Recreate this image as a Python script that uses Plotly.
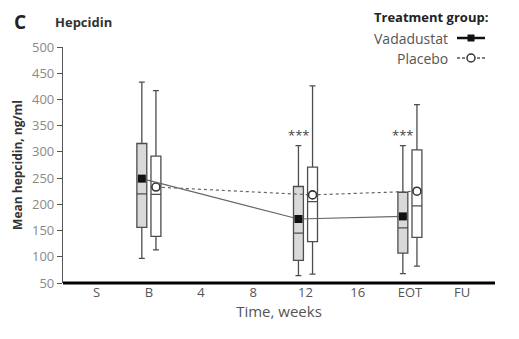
import plotly.graph_objects as go

# Categories (x-axis)
categories = ["S", "B", "4", "8", "12", "16", "EOT", "FU"]
box_cats = ["B", "12", "EOT"]

# Vadadustat box stats (ng/ml)
vad_lower = [97, 64, 68]
vad_q1 = [156, 93, 107]
vad_median = [220, 145, 155]
vad_q3 = [316, 234, 223]
vad_upper = [433, 312, 312]
vad_mean = [249, 172, 177]

# Placebo box stats (ng/ml)
pla_lower = [113, 67, 82]
pla_q1 = [139, 129, 137]
pla_median = [219, 205, 197]
pla_q3 = [292, 271, 304]
pla_upper = [417, 426, 390]
pla_mean = [233, 218, 225]

# significance marks
sig_cats = ["12", "EOT"]
sig_labels = ["***", "***"]
sig_y = [333, 333]

yticks = [50, 100, 150, 200, 250, 300, 350, 400, 450, 500]

pos = {c: i for i, c in enumerate(categories)}
off = 0.135
bw = 0.19
xv = [pos[c] - off for c in box_cats]
xp = [pos[c] + off for c in box_cats]

edge = "#4d4d4d"
fig = go.Figure()
fig.add_trace(go.Box(x=xv, q1=vad_q1, median=vad_median, q3=vad_q3,
                     lowerfence=vad_lower, upperfence=vad_upper,
                     fillcolor="#d9d9d9", line=dict(color=edge, width=1.3),
                     width=bw, whiskerwidth=0.6, showlegend=False, hoverinfo="skip"))
fig.add_trace(go.Box(x=xp, q1=pla_q1, median=pla_median, q3=pla_q3,
                     lowerfence=pla_lower, upperfence=pla_upper,
                     fillcolor="white", line=dict(color=edge, width=1.3),
                     width=bw, whiskerwidth=0.6, showlegend=False, hoverinfo="skip"))
fig.add_trace(go.Scatter(x=xp, y=pla_mean, mode="lines+markers",
                         line=dict(color="#666666", width=1.2, dash="3px,3px"),
                         marker=dict(symbol="circle", size=8, color="white",
                                     line=dict(color="#333333", width=1.6)),
                         showlegend=False))
fig.add_trace(go.Scatter(x=xv, y=vad_mean, mode="lines+markers",
                         line=dict(color="#666666", width=1.2),
                         marker=dict(symbol="square", size=8, color="#111111"),
                         showlegend=False))

for c, lab, yy in zip(sig_cats, sig_labels, sig_y):
    fig.add_annotation(x=pos[c] - off, y=yy, text=lab, showarrow=False,
                       font=dict(size=13, color="#444444", family="Open Sans"))

font = "Open Sans"
fig.update_layout(
    width=519, height=339,
    margin=dict(l=63, r=24, t=47, b=56),
    paper_bgcolor="white", plot_bgcolor="white",
    xaxis=dict(range=[-0.645, 7.63], tickmode="array",
               tickvals=list(range(len(categories))), ticktext=categories,
               showgrid=False, zeroline=False, showline=False, ticks="",
               tickfont=dict(size=13, color="#555555", family=font),
               title=dict(text="Time, weeks", font=dict(size=15, color="#555555", family=font),
                          standoff=4)),
    yaxis=dict(range=[50, 500], tickvals=yticks, showgrid=False, zeroline=False,
               showline=True, linecolor="#555555", linewidth=1.2,
               ticks="outside", ticklen=5, tickcolor="#555555",
               tickfont=dict(size=13, color="#8a8a8a", family=font),
               title=dict(text="<b>Mean hepcidin, ng/ml</b>",
                          font=dict(size=12, color="#333333", family=font), standoff=6)),
)

# thick x-axis baseline
fig.add_shape(type="line", xref="paper", yref="paper", x0=0, x1=1, y0=0, y1=0,
              line=dict(color="black", width=3))


def px2x(p):
    return (p - 63) / 432


def py2y(p):
    return (283 - p) / 236


def text_at(px, py, text, size, color, anchor="left"):
    fig.add_annotation(xref="paper", yref="paper", x=px2x(px), y=py2y(py),
                       text=text, showarrow=False, xanchor=anchor, yanchor="middle",
                       font=dict(size=size, color=color, family=font))


# panel label and title
text_at(12, 22, "<b>C</b>", 19, "#222222")
text_at(53, 22, "<b>Hepcidin</b>", 13, "#333333")

# legend (text left of key)
text_at(490, 17, "<b>Treatment group:</b>", 13, "#222222", "right")
text_at(450, 38, "Vadadustat", 14, "#555555", "right")
text_at(450, 58, "Placebo", 14, "#555555", "right")
fig.add_shape(type="line", xref="paper", yref="paper", x0=px2x(457), x1=px2x(485),
              y0=py2y(38), y1=py2y(38), line=dict(color="#111111", width=2.5))
fig.add_shape(type="rect", xref="paper", yref="paper", x0=px2x(467.5), x1=px2x(474.5),
              y0=py2y(34.5), y1=py2y(41.5), line=dict(width=0), fillcolor="#111111")
fig.add_shape(type="line", xref="paper", yref="paper", x0=px2x(457), x1=px2x(485),
              y0=py2y(58), y1=py2y(58), line=dict(color="#555555", width=1.5, dash="3px,2px"))
fig.add_shape(type="circle", xref="paper", yref="paper", x0=px2x(467), x1=px2x(475),
              y0=py2y(54), y1=py2y(62), line=dict(color="#333333", width=1.5), fillcolor="white")

fig.write_html("out.html")
